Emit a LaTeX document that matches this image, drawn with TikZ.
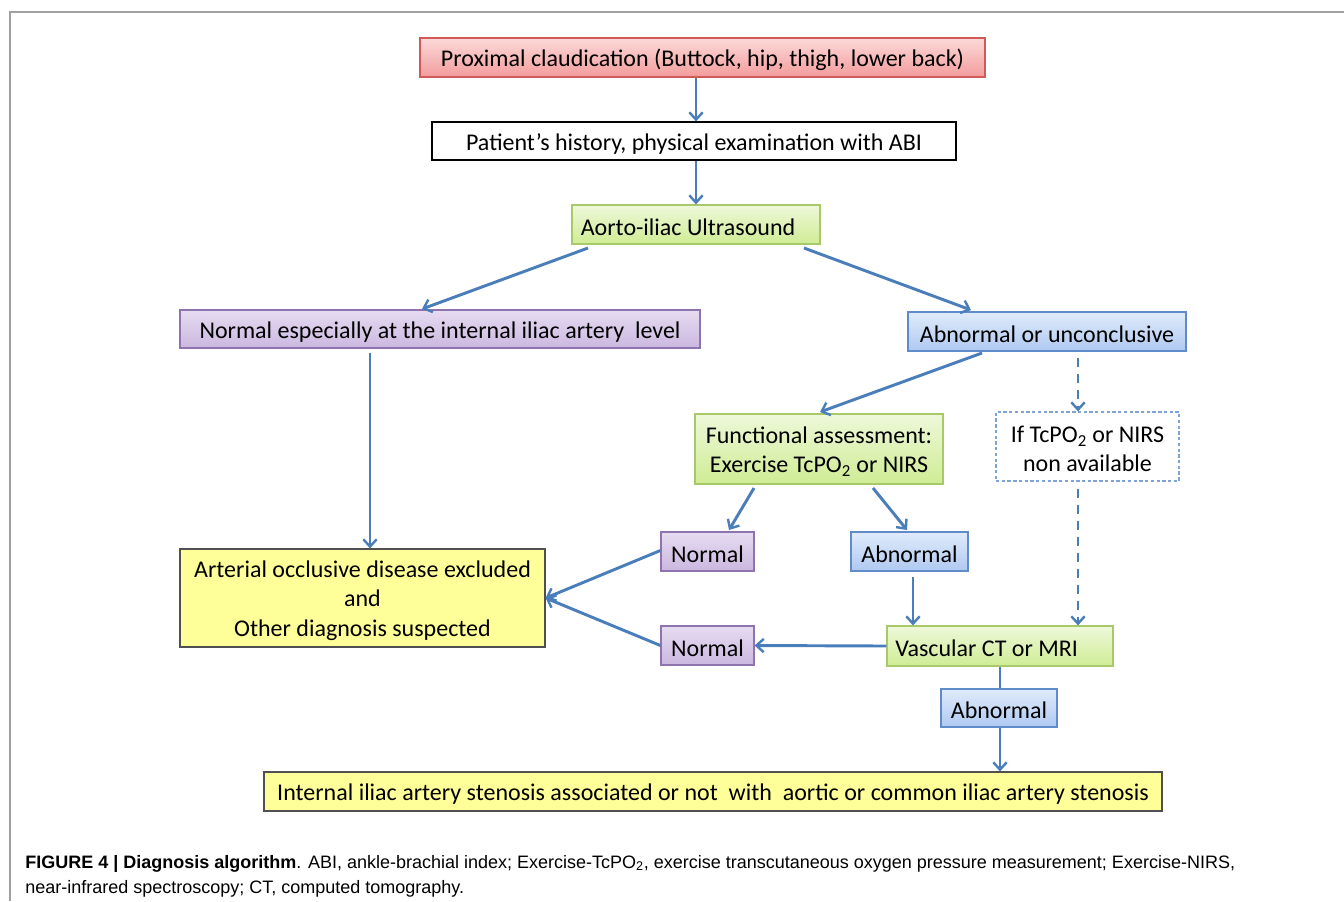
\documentclass[tikz,border=0pt]{standalone}
\usepackage{fontspec}
\setmainfont{Carlito}
\newfontfamily\capfont{Liberation Sans}
\usetikzlibrary{arrows.meta}
\definecolor{arr}{HTML}{4A7EBB}
\definecolor{redT}{HTML}{FCD9D9}\definecolor{redB}{HTML}{F39C9C}\definecolor{redD}{HTML}{D05A57}
\definecolor{grnT}{HTML}{EEF8DA}\definecolor{grnB}{HTML}{CFEC94}\definecolor{grnD}{HTML}{A8C96A}
\definecolor{purT}{HTML}{E6DCF1}\definecolor{purB}{HTML}{CBB7E0}\definecolor{purD}{HTML}{8E73AE}
\definecolor{bluT}{HTML}{E0EBFB}\definecolor{bluB}{HTML}{AFC9F1}\definecolor{bluD}{HTML}{5F8CC8}
\definecolor{yel}{HTML}{FFFF99}\definecolor{yelD}{HTML}{505050}
\definecolor{frm}{HTML}{A0A0A0}
\newcommand\bx[7]{\node[#2, minimum width={(#5-#3)*0.75pt}, minimum height={(#6-#4)*0.75pt}] (#1) at ({(#3+#5)/2},{(#4+#6)/2}) {};
  \node[boxtxt] (#1-t) at ([yshift=-2pt]#1.center) {#7};}
\begin{document}
\begin{tikzpicture}[x=0.75pt,y=-0.75pt,
  base/.style={rectangle, inner sep=0pt, line width=0.9pt},
  boxtxt/.style={inner sep=0pt, align=center, font=\fontsize{18}{21.8}\selectfont},
  redbox/.style={base, draw=redD, top color=redT, bottom color=redB},
  grnbox/.style={base, draw=grnD, top color=grnT, bottom color=grnB},
  purbox/.style={base, draw=purD, top color=purT, bottom color=purB},
  blubox/.style={base, draw=bluD, top color=bluT, bottom color=bluB},
  whtbox/.style={base, draw=black, fill=white},
  yelbox/.style={base, draw=yelD, fill=yel},
  dshbox/.style={base, draw=bluD!80, dash pattern=on 2.5pt off 1.8pt, fill=white},
  conn/.style={draw=arr, line width=2.2pt, -{Straight Barb[length=5.5pt,width=10pt,line width=1.8pt]}},
  plain/.style={draw=arr, line width=2.2pt},
  dconn/.style={conn, dash pattern=on 7pt off 5pt},
  captxt/.style={anchor=base west, inner sep=0pt, font=\capfont\fontsize{13.5}{16}\selectfont}
]
\useasboundingbox (0,0) rectangle (1344,901);
\draw[frm, line width=1.5pt] (10,901) -- (10,12) -- (1344,12);

\bx{prox}{redbox}{420}{38}{985}{77}{Proximal claudication (Buttock, hip, thigh, lower back)}
\bx{hist}{whtbox}{432}{122}{956}{160}{Patient’s history, physical examination with ABI}
\bx{us}{grnbox}{572}{205}{820}{244}{Aorto-iliac Ultrasound\hspace{12pt}}
\bx{norm}{purbox}{180}{310}{700}{348}{Normal especially at the internal iliac artery\ \ level}
\bx{abn}{blubox}{908}{312}{1186}{351}{Abnormal or unconclusive}
\bx{func}{grnbox}{695}{414}{943}{484}{Functional assessment:\\Exercise TcPO\textsubscript{2} or NIRS}
\bx{ifb}{dshbox}{996}{412}{1179}{481}{If TcPO\textsubscript{2} or NIRS\\non available}
\bx{aod}{yelbox}{180}{549}{545}{647}{Arterial occlusive disease excluded\\and\\Other diagnosis suspected}
\bx{n1}{purbox}{661}{532}{754}{571}{Normal}
\bx{a1}{blubox}{851}{532}{968}{571}{Abnormal}
\bx{n2}{purbox}{661}{626}{754}{665}{Normal}
\bx{ct}{grnbox}{887}{626}{1113}{666}{Vascular CT or MRI\hspace{20pt}}
\bx{a2}{blubox}{941}{689}{1057}{727}{Abnormal}
\bx{iia}{yelbox}{264}{772}{1162}{811}{Internal iliac artery stenosis associated or not\ \ with\ \ aortic or common iliac artery stenosis}

\coordinate (c1) at (696,78);
\draw[conn] (prox.south -| c1) -- (hist.north -| c1);
\draw[conn] (hist.south -| c1) -- (us.north -| c1);
\draw[conn] (588,248) -- (422,309);
\draw[conn] (804,248) -- (971,310);
\draw[conn] (norm.south -| 370,0) ++(0,4) -- (aod.north -| 370,0);
\draw[conn] (982,353) -- (820,412);
\draw[dconn] (abn.south -| 1078,0) ++(0,6) -- (ifb.north -| 1078,0);
\draw[dconn] (ifb.south -| 1078,0) ++(0,7) -- (ct.north -| 1078,0);
\draw[conn] (754,488) -- (729,530);
\draw[conn] (873,488) -- (907,530);
\draw[conn] (n1.west) ++(0,-1) -- (aod.east);
\draw[conn] (n2.west) -- (aod.east);
\draw[conn] (a1.south -| 913,0) ++(0,5) -- (ct.north -| 913,0);
\draw[conn] (ct.west) -- (n2.east);
\draw[plain] (ct.south -| 1000,0) -- (a2.north -| 1000,0);
\draw[conn] (a2.south -| 1000,0) -- (iia.north -| 1000,0);

\node[captxt] (cap1) at (25,868)
 {\textbf{FIGURE 4 | Diagnosis algorithm}. ABI, ankle-brachial index; Exercise-TcPO\textsubscript{2}, exercise transcutaneous oxygen pressure measurement; Exercise-NIRS,};
\node[captxt] (cap2) at (25,893)
 {near-infrared spectroscopy; CT, computed tomography.};
\end{tikzpicture}
\end{document}
